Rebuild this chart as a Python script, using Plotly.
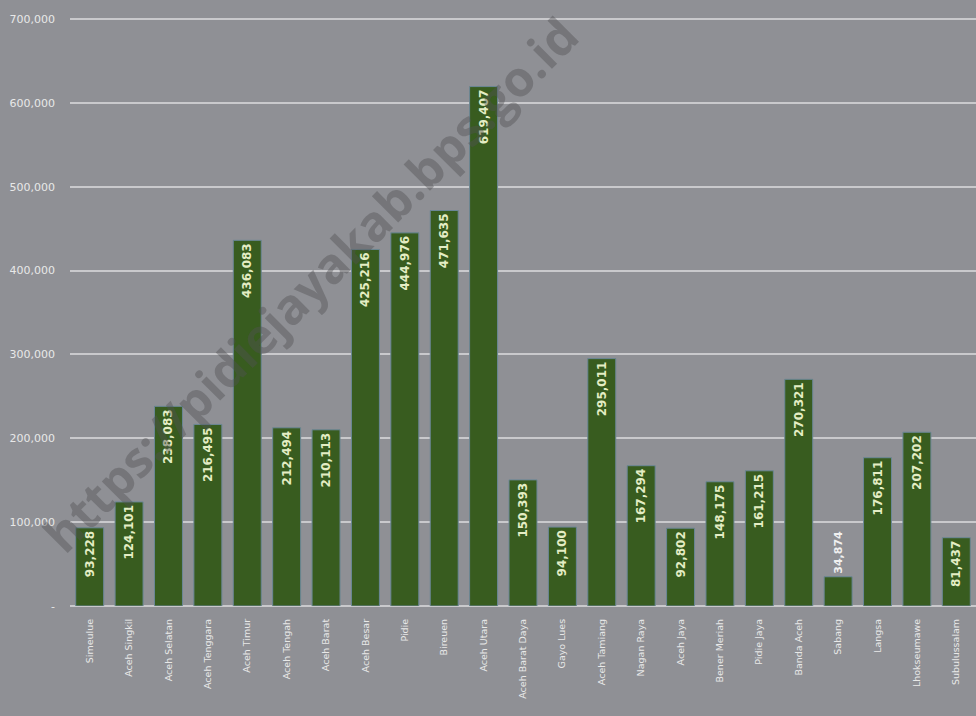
import plotly.graph_objects as go

regions = ["Simeulue", "Aceh Singkil", "Aceh Selatan", "Aceh Tenggara", "Aceh Timur",
           "Aceh Tengah", "Aceh Barat", "Aceh Besar", "Pidie", "Bireuen", "Aceh Utara",
           "Aceh Barat Daya", "Gayo Lues", "Aceh Tamiang", "Nagan Raya", "Aceh Jaya",
           "Bener Meriah", "Pidie Jaya", "Banda Aceh", "Sabang", "Langsa",
           "Lhokseumawe", "Subulussalam"]
population = [93228, 124101, 238083, 216495, 436083, 212494, 210113, 425216, 444976,
              471635, 619407, 150393, 94100, 295011, 167294, 92802, 148175, 161215,
              270321, 34874, 176811, 207202, 81437]
y_ticks = [0, 100000, 200000, 300000, 400000, 500000, 600000, 700000]
y_tick_labels = ["-", "100,000", "200,000", "300,000", "400,000", "500,000", "600,000", "700,000"]

bg = "#8f9095"
label_color = "#e4edc4"
fig = go.Figure(go.Bar(
    x=regions, y=population,
    marker=dict(color="#385c1f", line=dict(color="#6b8796", width=1)),
    text=[f"{v:,}" for v in population],
    textposition=["outside" if v < 50000 else "inside" for v in population],
    insidetextanchor="end", textangle=-90,
    constraintext="none",
    textfont=dict(family="DejaVu Sans", size=12, color=label_color, weight="bold"),
    outsidetextfont=dict(family="DejaVu Sans", size=11, color="#f0f0f0", weight="bold"),
    cliponaxis=False,
))

fig.update_layout(
    width=976, height=716,
    paper_bgcolor=bg, plot_bgcolor=bg,
    margin=dict(l=70, r=0, t=5, b=110),
    bargap=0.29,
    showlegend=False,
    font=dict(family="DejaVu Sans", color="#e8e8e8"),
    xaxis=dict(range=[-0.5, 22.5], tickangle=-90, tickfont=dict(size=9.5, color="#e8e8e8"),
               showgrid=False, showline=False, ticks="", zeroline=False,
               ticklabelstandoff=10),
    yaxis=dict(range=[0, 716700], tickvals=y_ticks, ticktext=y_tick_labels,
               tickfont=dict(size=11, color="#e8e8e8"), showgrid=True,
               gridcolor="#c9c9cc", gridwidth=2, zeroline=True, zerolinecolor="#c9c9cc",
               zerolinewidth=2, ticks="", ticklabelstandoff=14),
)

fig.add_annotation(
    text="https://pidiejayakab.bps.go.id", xref="paper", yref="paper",
    x=0.265, y=0.535, xanchor="center", yanchor="middle", showarrow=False, textangle=-45,
    font=dict(family="Open Sans", size=49, color="rgba(80,80,84,0.42)", weight="bold"),
)

fig.write_html("out.html", config={"displayModeBar": False},
               post_script="document.body.style.margin='0';")
